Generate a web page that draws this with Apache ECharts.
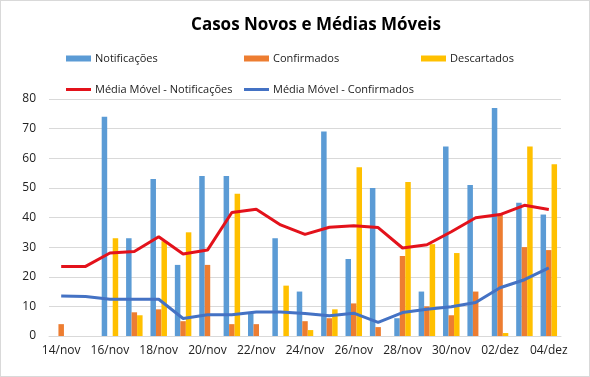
<!DOCTYPE html>
<html>
<head>
<meta charset="utf-8">
<script src="https://cdn.jsdelivr.net/npm/echarts@6/dist/echarts.min.js"></script>
<style>
  html, body { margin: 0; padding: 0; background: #fff; }
  #chart { width: 590px; height: 377px; box-sizing: border-box; border: 1px solid #d9d9d9; }
</style>
</head>
<body>
<div id="chart"></div>
<script>
const days = ['14/nov', '15/nov', '16/nov', '17/nov', '18/nov', '19/nov', '20/nov', '21/nov',
  '22/nov', '23/nov', '24/nov', '25/nov', '26/nov', '27/nov', '28/nov', '29/nov', '30/nov',
  '01/dez', '02/dez', '03/dez', '04/dez']

const notificacoes = [0, 0, 74, 33, 53, 24, 54, 54, 8, 33, 15, 69, 26, 50, 6, 15, 64, 51, 77, 45, 41]
const confirmados  = [4, 0, 0, 8, 9, 5, 24, 4, 4, 0, 5, 6, 11, 3, 27, 10, 7, 15, 41, 30, 29]
const descartados  = [0, 0, 33, 7, 32, 35, 0, 48, 0, 17, 2, 9, 57, 0, 52, 31, 28, 0, 1, 64, 58]

const mmNotif = [23.5, 23.5, 28, 28.5, 33.5, 27.7, 29, 41.7, 42.8, 37.5, 34.3, 36.7, 37.2, 36.6,
  29.7, 30.8, 35.2, 39.9, 41, 44.1, 42.7]
const mmConf = [13.5, 13.3, 12.4, 12.4, 12.4, 5.9, 7.2, 7.2, 8.1, 8.1, 7.6, 6.8, 7.7, 4.6,
  7.9, 9, 9.9, 11.3, 16.3, 19, 23]

const FONT = 'Open Sans'
const txt = { color: '#222', fontFamily: FONT, fontSize: 11 }

function legendAt(name, left, top, isLine) {
  return {
    data: [name], left, top,
    icon: 'rect', itemWidth: isLine ? 25 : 25, itemHeight: isLine ? 3 : 6, itemGap: 0,
    textStyle: { ...txt, padding: [0, 0, 0, -1] },
    selectedMode: false,
  }
}

const bar = (name, data, color) => ({
  name, type: 'bar', data, barWidth: 5.5, barGap: '0%',
  itemStyle: { color }, emphasis: { disabled: true },
})
const line = (name, data, color) => ({
  name, type: 'line', data, symbol: 'none', z: 5,
  lineStyle: { color, width: 3 }, itemStyle: { color },
  emphasis: { disabled: true },
})

const chart = echarts.init(document.getElementById('chart'))
chart.setOption({
  animation: false,
  title: {
    text: 'Casos Novos e Médias Móveis', left: 310, top: 11, textAlign: 'center',
    textStyle: { color: '#000', fontFamily: FONT, fontSize: 17, fontWeight: 'bold' },
  },
  legend: [
    legendAt('Notificações', 60, 47),
    legendAt('Confirmados', 238, 47),
    legendAt('Descartados', 415, 47),
    legendAt('Média Móvel - Notificações', 60, 78, true),
    legendAt('Média Móvel - Confirmados', 238, 78, true),
  ],
  grid: { left: 48, right: 28, top: 98, bottom: 40 },
  xAxis: {
    type: 'category', data: days,
    axisLine: { lineStyle: { color: '#d9d9d9' } },
    axisTick: { interval: 1, length: 5, lineStyle: { color: '#d9d9d9' } },
    axisLabel: { ...txt, fontSize: 12, interval: 1, margin: 9 },
  },
  yAxis: {
    type: 'value', min: 0, max: 80, interval: 10,
    axisLine: { show: false }, axisTick: { show: false },
    axisLabel: { ...txt, fontSize: 12, margin: 13 },
    splitLine: { lineStyle: { color: '#d9d9d9' } },
  },
  series: [
    bar('Notificações', notificacoes, '#5b9bd5'),
    bar('Confirmados', confirmados, '#ed7d31'),
    bar('Descartados', descartados, '#ffc000'),
    line('Média Móvel - Notificações', mmNotif, '#e3121b'),
    line('Média Móvel - Confirmados', mmConf, '#4472c4'),
  ],
})
</script>
</body>
</html>
